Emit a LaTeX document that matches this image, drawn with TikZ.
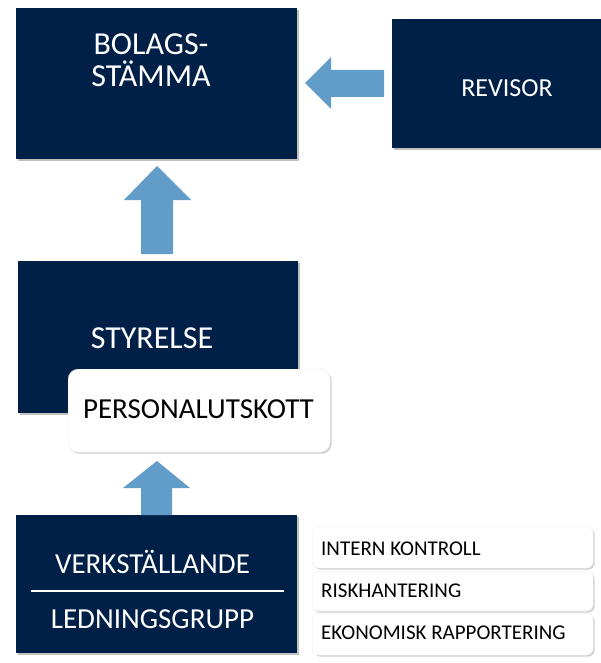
\documentclass[tikz,border=0pt]{standalone}
\usepackage{fontspec}
\setmainfont{Carlito}
\usetikzlibrary{shadows}
\definecolor{navy}{RGB}{0,32,71}
\definecolor{arrowblue}{RGB}{98,157,201}
\begin{document}
\begin{tikzpicture}[x=1pt,y=-1pt,
  darkbox/.style={fill=navy, draw=none, inner sep=0pt, anchor=north west,
    drop shadow={opacity=0.35, shadow xshift=1.5pt, shadow yshift=-1.5pt, fill=black!70}},
  whitebox/.style={fill=white, draw=black!8, inner sep=0pt, anchor=north west, rounded corners=7pt,
    drop shadow={opacity=0.3, shadow xshift=1.5pt, shadow yshift=-1.5pt, fill=black!60}},
  wtext/.style={text=white, anchor=base, inner sep=0pt, align=center},
  btext/.style={text=black, anchor=base, inner sep=0pt},
  blockarrow/.style={fill=arrowblue, draw=none}]
\useasboundingbox (0,0) rectangle (600,663);
\fill[white] (0,0) rectangle (600,663);

% boxes
\node[darkbox, minimum width=281pt, minimum height=151pt] (bol) at (16,8) {};
\node[darkbox, minimum width=212pt, minimum height=129pt] (rev) at (392,19) {};
\node[darkbox, minimum width=280pt, minimum height=152pt] (sty) at (18,261) {};
\node[darkbox, minimum width=281pt, minimum height=138pt] (vd) at (16,515) {};

\node[whitebox, rounded corners=10pt, minimum width=262pt, minimum height=83pt] (pers) at (68,369) {};

\node[whitebox, minimum width=281pt, minimum height=42pt] (ik) at (312,526) {};
\node[whitebox, minimum width=281pt, minimum height=40pt] (rh) at (312,571) {};
\node[whitebox, minimum width=281pt, minimum height=42pt] (ek) at (312,613) {};

% texts
\node[wtext, font=\fontsize{32}{32}\selectfont] (tbol) at (151,87) {BOLAGS-\\STÄMMA};
\node[wtext, font=\fontsize{26}{26}\selectfont] (trev) at (507,97) {REVISOR};
\node[wtext, font=\fontsize{32}{32}\selectfont] (tsty) at (152,348) {STYRELSE};
\node[btext, font=\fontsize{29}{29}\selectfont] (tpers) at (198.5,418) {PERSONALUTSKOTT};
\node[wtext, font=\fontsize{29}{29}\selectfont] (tvd) at (152.5,573) {VERKSTÄLLANDE};
\node[wtext, font=\fontsize{29}{29}\selectfont] (tlg) at (152.5,628) {LEDNINGSGRUPP};
\draw[white, line width=1.5pt] (31,591) coordinate (l1) -- (284,591) coordinate (l2);

\node[btext, anchor=base west, font=\fontsize{21}{21}\selectfont] (tik) at (321,555) {INTERN KONTROLL};
\node[btext, anchor=base west, font=\fontsize{21}{21}\selectfont] (trh) at (321,597) {RISKHANTERING};
\node[btext, anchor=base west, font=\fontsize{21}{21}\selectfont] (tek) at (321,639) {EKONOMISK RAPPORTERING};

% block arrows
\fill[blockarrow] (157,166) -- (191,200) -- (173,200) -- (173,254) -- (141,254) -- (141,200) -- (124,200) -- cycle;
\fill[blockarrow] (157,461) -- (190,488) -- (172,488) -- (172,515) -- (141,515) -- (141,488) -- (123,488) -- cycle;
\fill[blockarrow] (305,83) -- (331,57) -- (331,70) -- (384,70) -- (384,97) -- (331,97) -- (331,109) -- cycle;
\end{tikzpicture}
\end{document}
